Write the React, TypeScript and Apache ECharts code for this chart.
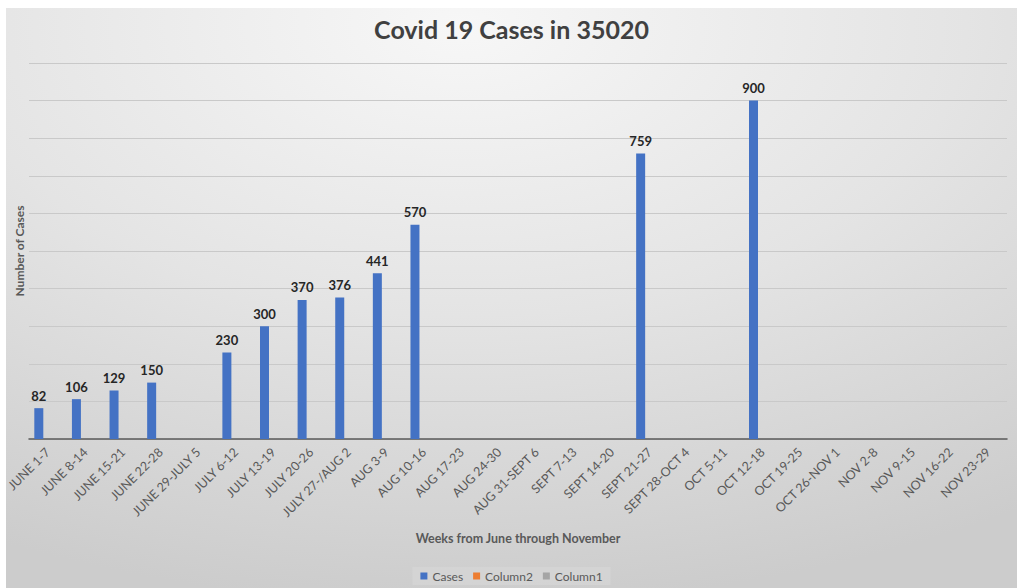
import React, { useEffect, useRef } from "react";
import * as echarts from "echarts";

const categories = [
  "JUNE 1-7", "JUNE 8-14", "JUNE 15-21", "JUNE 22-28", "JUNE 29-JULY 5",
  "JULY 6-12", "JULY 13-19", "JULY 20-26", "JULY 27-/AUG 2", "AUG 3-9",
  "AUG 10-16", "AUG 17-23", "AUG 24-30", "AUG 31-SEPT 6", "SEPT 7-13",
  "SEPT 14-20", "SEPT 21-27", "SEPT 28-OCT 4", "OCT 5-11", "OCT 12-18",
  "OCT 19-25", "OCT 26-NOV 1", "NOV 2-8", "NOV 9-15", "NOV 16-22", "NOV 23-29",
];

const cases: (number | null)[] = [
  82, 106, 129, 150, null,
  230, 300, 370, 376, 441,
  570, null, null, null, null,
  null, 759, null, null, 900,
  null, null, null, null, null, null,
];

const column2: (number | null)[] = categories.map(() => null);
const column1: (number | null)[] = categories.map(() => null);

const FONT = "Lato, 'Open Sans', sans-serif";

export default function App() {
  const ref = useRef<HTMLDivElement>(null);

  useEffect(() => {
    if (!ref.current) return;
    const chart = echarts.init(ref.current, undefined, { renderer: "svg" });
    chart.setOption({
      animation: false,
      backgroundColor: {
        type: "radial",
        x: 0.45,
        y: 0.03,
        r: 1.0,
        colorStops: [
          { offset: 0, color: "#f7f7f7" },
          { offset: 0.5, color: "#e4e4e4" },
          { offset: 1, color: "#cccccc" },
        ],
      },
      textStyle: { fontFamily: FONT },
      title: {
        text: "Covid 19 Cases in 35020",
        left: "center",
        top: 8,
        padding: 0,
        textStyle: { fontSize: 25, fontWeight: "bold", color: "#404040", fontFamily: FONT },
      },
      legend: {
        bottom: 3,
        left: "center",
        padding: [3, 8],
        backgroundColor: "rgba(255,255,255,0.12)",
        itemWidth: 7,
        itemHeight: 7,
        itemGap: 10,
        icon: "rect",
        textStyle: { fontSize: 12, color: "#595959", fontFamily: FONT },
        data: ["Cases", "Column2", "Column1"],
      },
      grid: {
        left: 23,
        right: 10,
        top: 55,
        bottom: 149,
        outerBoundsMode: "none",
        containLabel: false,
      },
      xAxis: {
        type: "category",
        data: categories,
        name: "Weeks from June through November",
        nameLocation: "middle",
        nameGap: 93,
        nameTextStyle: { fontSize: 12.5, fontWeight: "bold", color: "#595959", fontFamily: FONT },
        axisLine: { lineStyle: { color: "#595959", width: 1.5 } },
        axisTick: { show: false },
        axisLabel: {
          rotate: 45,
          interval: 0,
          fontSize: 12.5,
          color: "#595959",
          margin: 11,
          fontFamily: FONT,
        },
      },
      yAxis: {
        type: "value",
        min: 0,
        max: 1000,
        interval: 100,
        name: "Number of Cases",
        nameLocation: "middle",
        nameRotate: 90,
        nameGap: 4,
        nameTextStyle: { fontSize: 12, fontWeight: "bold", color: "#595959", fontFamily: FONT },
        axisLine: { show: false },
        axisTick: { show: false },
        axisLabel: { show: false },
        splitLine: { lineStyle: { color: "#c9c9c9", width: 1 } },
      },
      series: [
        {
          name: "Cases",
          type: "bar",
          data: cases,
          barWidth: 9,
          barGap: "0%",
          itemStyle: { color: "#4472C4" },
          label: {
            show: true,
            position: "top",
            distance: 6,
            fontSize: 13,
            fontWeight: "bold",
            color: "#262626",
            fontFamily: FONT,
          },
        },
        {
          name: "Column2",
          type: "bar",
          data: column2,
          barWidth: 9,
          barGap: "0%",
          itemStyle: { color: "#ED7D31" },
        },
        {
          name: "Column1",
          type: "bar",
          data: column1,
          barWidth: 9,
          barGap: "0%",
          itemStyle: { color: "#A5A5A5" },
        },
      ],
    });
    return () => chart.dispose();
  }, []);

  return (
    <div
      ref={ref}
      style={{ position: "absolute", left: 6, top: 8, width: 1011, height: 580 }}
    />
  );
}
